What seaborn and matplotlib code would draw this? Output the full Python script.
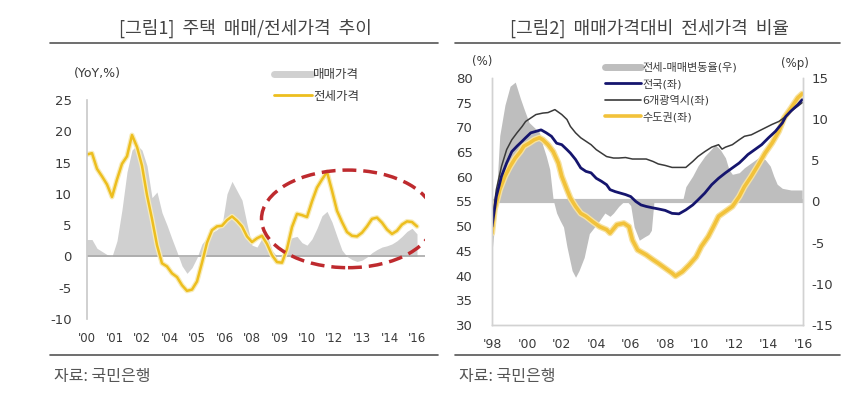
import numpy as np
import pandas as pd
import matplotlib
matplotlib.use('Agg')
import matplotlib.pyplot as plt
import seaborn as sns
from matplotlib.patches import Ellipse
from matplotlib.lines import Line2D

sns.set_style('white')
# 숫자는 DejaVu, 한글은 Noto Sans CJK KR 로 넘어감
plt.rcParams['font.family'] = ['DejaVu Sans', 'Noto Sans CJK KR']
plt.rcParams['axes.unicode_minus'] = False

# 그림1: 매매/전세가격 상승률 (YoY, %), 같은 간격의 구간
labels1 = ["'00", "'01", "'02", "'04", "'05", "'06", "'08", "'09", "'10", "'12", "'13", "'14", "'16"]
jeonse = [16.3, 16.5, 14.0, 12.8, 11.5, 9.5, 12.3, 14.8, 16.0, 19.4, 17.5, 14.5, 9.8, 6.0, 1.8,
          -1.1, -1.6, -2.7, -3.3, -4.6, -5.5, -5.3, -4.0, -1.0, 2.2, 4.2, 4.8, 4.9, 5.8, 6.4,
          5.7, 4.8, 3.2, 2.3, 2.9, 3.3, 2.0, 0.2, -0.9, -1.0, 1.2, 4.7, 6.8, 6.6, 6.3, 8.8,
          11.0, 12.3, 13.5, 10.5, 7.3, 5.5, 3.9, 3.3, 3.2, 3.8, 4.8, 6.0, 6.2, 5.4, 4.3, 3.6,
          4.1, 5.1, 5.6, 5.5, 4.8]
maemae = [2.7, 2.7, 1.3, 0.8, 0.3, 0.0, 2.5, 7.5, 13.5, 17.0, 17.8, 17.0, 14.5, 9.4, 10.3,
          7.0, 5.0, 2.8, 0.7, -1.5, -2.7, -1.8, -0.2, 2.0, 3.0, 3.8, 4.3, 5.0, 10.0, 12.0,
          10.5, 9.0, 5.2, 1.8, 1.5, 2.9, 3.5, 1.0, 0.0, 0.0, 1.8, 3.0, 3.2, 2.2, 1.8, 2.8,
          4.5, 6.5, 7.2, 5.5, 3.2, 1.0, 0.0, -0.5, -0.8, -0.6, -0.1, 0.6, 1.1, 1.5, 1.7, 2.0,
          2.5, 3.2, 4.0, 4.5, 3.6]

# 그림2: 매매가격대비 전세가격 비율
gap_yr = [1997.95, 1998.1, 1998.2, 1998.4, 1998.7, 1999.0, 1999.3, 1999.6, 1999.8, 2000.1,
          2000.4, 2000.7, 2000.9, 2001.1, 2001.3, 2001.5, 2001.7, 2001.9, 2002.1, 2002.3,
          2002.6, 2002.8, 2003.0, 2003.3, 2003.6, 2003.9, 2004.2, 2004.5, 2004.8, 2005.0,
          2005.3, 2005.6, 2005.8, 2006.0, 2006.2, 2006.5, 2006.8, 2007.05, 2007.2, 2007.35,
          2008.0, 2008.5, 2009.0, 2009.2, 2009.6, 2009.9, 2010.3, 2010.7, 2010.9, 2011.2,
          2011.5, 2011.7, 2011.9, 2012.3, 2012.6, 2013.0, 2013.4, 2013.8, 2014.1, 2014.3,
          2014.5, 2014.8, 2015.3, 2015.95]
gap = [-6.1, -3.0, 0.5, 8.0, 11.7, 14.0, 14.5, 12.5, 11.3, 9.6,
       9.0, 8.4, 6.8, 5.5, 3.9, 0.2, -1.4, -2.3, -3.1, -5.5,
       -8.4, -9.2, -8.4, -6.8, -3.9, -3.1, -2.3, -1.4, -1.8, -1.4,
       -0.6, 0.0, 0.0, -0.5, -3.1, -4.7, -4.3, -4.0, -3.5, 0.0,
       0.0, 0.0, 0.0, 1.8, 3.1, 4.3, 5.5, 6.4, 6.9, 6.3,
       5.3, 3.9, 3.3, 3.5, 4.1, 4.7, 5.3, 5.1, 4.3, 3.1,
       2.1, 1.6, 1.4, 1.4]

nat_yr = [1997.95, 1998.2, 1998.5, 1998.8, 1999.1, 1999.4, 1999.7, 1999.9, 2000.2, 2000.5,
          2000.8, 2001.1, 2001.4, 2001.7, 2002.0, 2002.3, 2002.5, 2002.8, 2003.1, 2003.4,
          2003.7, 2004.0, 2004.3, 2004.6, 2004.8, 2005.1, 2005.4, 2005.7, 2006.0, 2006.3,
          2006.6, 2006.9, 2007.3, 2007.6, 2008.0, 2008.4, 2008.8, 2009.2, 2009.6, 2009.9,
          2010.3, 2010.7, 2011.1, 2011.5, 2011.9, 2012.3, 2012.6, 2012.8, 2013.2, 2013.6,
          2014.0, 2014.4, 2014.8, 2015.0, 2015.3, 2015.7, 2015.95]
national = [49.9, 56.0, 60.1, 62.8, 65.1, 66.2, 67.2, 67.9, 68.9, 69.2,
            69.5, 68.9, 68.2, 66.8, 66.5, 65.5, 64.8, 63.5, 61.8, 61.1,
            60.8, 59.7, 59.1, 58.4, 57.4, 57.0, 56.7, 56.4, 56.0, 55.0,
            54.3, 54.0, 53.7, 53.5, 53.2, 52.6, 52.5, 53.3, 54.3, 55.3,
            56.7, 58.4, 59.7, 60.8, 61.8, 62.8, 63.8, 64.5, 65.5, 66.5,
            67.9, 69.2, 70.9, 72.2, 73.3, 74.6, 75.6]

metro_yr = [1997.95, 1998.2, 1998.5, 1998.8, 1999.1, 1999.4, 1999.7, 1999.9, 2000.2, 2000.5,
            2000.9, 2001.2, 2001.6, 2002.0, 2002.3, 2002.5, 2002.8, 2003.1, 2003.4, 2003.7,
            2004.0, 2004.3, 2004.6, 2005.0, 2005.3, 2005.7, 2006.1, 2006.4, 2006.9, 2007.3,
            2007.6, 2008.0, 2008.4, 2008.8, 2009.2, 2009.6, 2009.9, 2010.3, 2010.7, 2011.1,
            2011.3, 2011.5, 2011.9, 2012.3, 2012.6, 2013.0, 2013.4, 2013.8, 2014.2, 2014.6,
            2015.0, 2015.3, 2015.7, 2015.95]
metro6 = [50.5, 57.4, 62.1, 65.5, 67.5, 68.9, 70.2, 71.2, 71.9, 72.6,
          72.9, 73.0, 73.6, 72.6, 71.6, 70.2, 68.9, 67.9, 67.2, 66.5,
          65.5, 64.8, 64.1, 63.8, 63.8, 63.9, 63.6, 63.6, 63.6, 63.1,
          62.6, 62.3, 61.9, 61.9, 61.9, 63.1, 64.1, 65.1, 66.0, 66.5,
          65.6, 66.0, 66.5, 67.5, 68.2, 68.5, 69.2, 69.9, 70.6, 71.2,
          72.2, 73.3, 74.3, 75.0]

cap_yr = [1997.95, 1998.1, 1998.4, 1998.7, 1999.0, 1999.3, 1999.6, 1999.8, 2000.1, 2000.4,
          2000.7, 2000.9, 2001.2, 2001.5, 2001.8, 2002.0, 2002.3, 2002.5, 2002.8, 2003.1,
          2003.4, 2003.8, 2004.2, 2004.6, 2004.8, 2005.2, 2005.6, 2005.9, 2006.1, 2006.4,
          2006.9, 2007.3, 2007.6, 2008.0, 2008.4, 2008.6, 2009.0, 2009.4, 2009.8, 2010.1,
          2010.5, 2010.8, 2011.1, 2011.5, 2011.9, 2012.3, 2012.6, 2013.0, 2013.4, 2013.8,
          2014.2, 2014.6, 2014.9, 2015.3, 2015.7, 2015.95]
capital = [48.6, 53.3, 57.4, 60.1, 62.1, 63.8, 65.1, 66.2, 66.8, 67.5,
           67.9, 67.5, 66.5, 65.1, 62.8, 60.1, 57.4, 55.7, 54.0, 52.6,
           52.0, 50.9, 49.9, 49.3, 48.6, 50.3, 50.6, 49.9, 47.2, 45.2,
           44.2, 43.2, 42.5, 41.5, 40.5, 39.9, 40.8, 42.2, 43.8, 45.9,
           47.9, 49.9, 52.0, 53.0, 54.0, 56.0, 58.0, 60.1, 62.4, 64.8,
           66.8, 69.2, 71.9, 73.9, 76.0, 76.8]
labels2 = ["'98", "'00", "'02", "'04", "'06", "'08", "'10", "'12", "'14", "'16"]

W, H = 860, 393
fig = plt.figure(figsize=(W / 100, H / 100), dpi=100)

def fx(px):
    return px / W

def fy(py):
    return 1 - py / H

txt = '#3A3A3A'
yellow = '#EDBE1E'
kr = 'Noto Sans CJK KR'

# ---------------- 그림1 ----------------
fig.text(fx(245), fy(28), '[그림1]  주택  매매/전세가격  추이', ha='center', va='center',
         fontsize=13, color='#444444', family=[kr, 'DejaVu Sans'])
fig.add_artist(Line2D([fx(50), fx(438)], [fy(43), fy(43)], color='#555555', lw=1.2))
fig.add_artist(Line2D([fx(50), fx(438)], [fy(355), fy(355)], color='#555555', lw=1.2))
fig.text(fx(54), fy(376), '자료: 국민은행', ha='left', va='center', fontsize=11.5,
         color='#555555', family=[kr, 'DejaVu Sans'])

ax1 = fig.add_axes([fx(87), fy(319), fx(425 - 87), fy(100) - fy(319)])
df1 = pd.DataFrame({'t': np.arange(len(jeonse)), 'jeonse': jeonse, 'maemae': maemae})
ax1.fill_between(df1['t'], 0, df1['maemae'], color='#D0D0D0', lw=0)
ax1.axhline(0, color='#A8A8A8', lw=1.2)
sns.lineplot(data=df1, x='t', y='jeonse', ax=ax1, color='#F7EBB8', lw=3.6, legend=False)
sns.lineplot(data=df1, x='t', y='jeonse', ax=ax1, color=yellow, lw=1.8, legend=False)
ax1.set_xlim(0, 67.6)
ax1.set_ylim(-10, 25)
ax1.set_yticks(range(-10, 26, 5))
ax1.set_xticks(np.linspace(0, len(jeonse) - 1, len(labels1)))
ax1.set_xticklabels(labels1)
ax1.tick_params(length=0, colors=txt)
ax1.tick_params(axis='y', pad=11, labelsize=9.5)
ax1.tick_params(axis='x', pad=9, labelsize=8.5)
ax1.set_xlabel('')
ax1.set_ylabel('')
for s in ['top', 'right', 'bottom']:
    ax1.spines[s].set_visible(False)
ax1.spines['left'].set_color('#C8C8C8')
ax1.spines['left'].set_linewidth(1.2)
ax1.add_patch(Ellipse((52.2, 6.0), 34.6, 15.6, fill=False, edgecolor='#BE2A2E',
                      lw=2.5, linestyle=(0, (4, 2)), zorder=5))
fig.text(fx(97), fy(73), '(YoY,%)', ha='center', va='center', fontsize=9, color=txt)
h1 = [Line2D([], [], color='#D0D0D0', lw=5), Line2D([], [], color=yellow, lw=2)]
ax1.legend(h1, ['매매가격', '전세가격'], loc='upper left', bbox_to_anchor=(fx(274), fy(68)),
           bbox_transform=fig.transFigure, frameon=False, fontsize=9, handlelength=3.0,
           handletextpad=0.15, labelspacing=0.7, borderpad=0, borderaxespad=0,
           labelcolor=txt)

# ---------------- 그림2 ----------------
fig.text(fx(650), fy(28), '[그림2]  매매가격대비  전세가격  비율', ha='center', va='center',
         fontsize=13, color='#444444', family=[kr, 'DejaVu Sans'])
fig.add_artist(Line2D([fx(455), fx(840)], [fy(43), fy(43)], color='#555555', lw=1.2))
fig.add_artist(Line2D([fx(455), fx(840)], [fy(355), fy(355)], color='#555555', lw=1.2))
fig.text(fx(459), fy(376), '자료: 국민은행', ha='left', va='center', fontsize=11.5,
         color='#555555', family=[kr, 'DejaVu Sans'])

ax2 = fig.add_axes([fx(492), fy(325), fx(803 - 492), fy(78) - fy(325)])
ax3 = ax2.twinx()
ax3.fill_between(gap_yr, 0, gap, color='#BEBEBE', lw=0)
ax3.axhline(0, color='#BEBEBE', lw=3)
ax3.set_ylim(-15, 15)
ax3.set_yticks(range(-15, 16, 5))
ax3.tick_params(length=0, labelsize=9.5, colors=txt, pad=6)
ax3.set_ylabel('')

ax2.set_zorder(ax3.get_zorder() + 1)
ax2.patch.set_visible(False)
sns.lineplot(x=cap_yr, y=capital, ax=ax2, color='#F7E2A0', lw=4.5, legend=False)
sns.lineplot(x=cap_yr, y=capital, ax=ax2, color='#F2C23A', lw=2.6, legend=False)
sns.lineplot(x=metro_yr, y=metro6, ax=ax2, color='#3A3A3A', lw=1.1, legend=False)
sns.lineplot(x=nat_yr, y=national, ax=ax2, color='#15156E', lw=2.0, legend=False)
ax2.set_xlim(1997.95, 2016.0)
ax2.set_ylim(30, 80)
ax2.set_yticks(range(30, 81, 5))
ax2.set_xticks(range(1998, 2017, 2))
ax2.set_xticklabels(labels2)
ax2.tick_params(length=0, colors=txt)
ax2.tick_params(axis='y', pad=14, labelsize=9.5)
ax2.tick_params(axis='x', pad=9, labelsize=9)
for a in (ax2, ax3):
    a.spines['top'].set_visible(False)
    for s in ['left', 'right', 'bottom']:
        a.spines[s].set_color('#D2D2D2')
        a.spines[s].set_linewidth(1.0)
fig.text(fx(482), fy(61), '(%)', ha='center', va='center', fontsize=8.5, color=txt)
fig.text(fx(795), fy(64), '(%p)', ha='center', va='center', fontsize=8.5, color=txt)
h2 = [Line2D([], [], color='#BEBEBE', lw=5), Line2D([], [], color='#15156E', lw=2),
      Line2D([], [], color='#3A3A3A', lw=1.2), Line2D([], [], color='#F2C23A', lw=2.6)]
ax2.legend(h2, ['전세-매매변동율(우)', '전국(좌)', '6개광역시(좌)', '수도권(좌)'],
           loc='upper left', bbox_to_anchor=(fx(605), fy(62)), bbox_transform=fig.transFigure,
           frameon=False, fontsize=8, handlelength=3.2, handletextpad=0.15,
           labelspacing=0.55, borderpad=0, borderaxespad=0, labelcolor=txt)

fig.savefig('out.png', dpi=100)
